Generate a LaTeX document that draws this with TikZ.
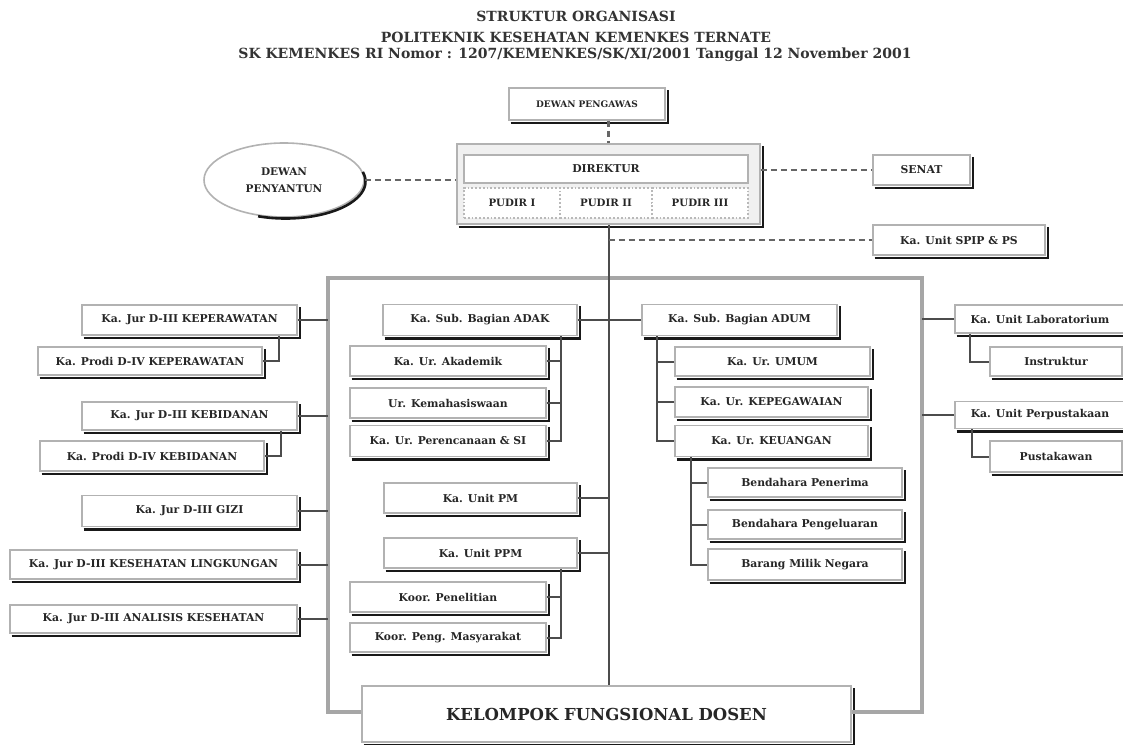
\documentclass[tikz,border=0pt]{standalone}
\usepackage{fontspec}
\setmainfont{DejaVu Serif}
\usetikzlibrary{shapes.geometric,calc}
\begin{document}
\begin{tikzpicture}[x=1pt,y=-1pt,
  box/.style={draw=gray!60,line width=1.8pt,fill=white,inner sep=0pt,font=\bfseries\fontsize{10.8}{12}\selectfont,text=black!85},
  pudir/.style={draw=gray!55,dotted,line width=1.8pt,fill=white,inner sep=0pt,font=\bfseries\fontsize{10.2}{12}\selectfont,text=black!85},
  shadowline/.style={draw=black!90,line width=2.8pt},
  conn/.style={draw=black!70,line width=2pt},
  frameline/.style={draw=gray!70,line width=3.2pt},
  dashline/.style={draw=black!60,line width=2.2pt,dash pattern=on 6pt off 4pt},
  titlefont/.style={font=\bfseries\fontsize{14}{16}\selectfont,text=black!80},
]
\useasboundingbox[fill=white] (0,0) rectangle (1123,744);

% titles
\node[titlefont] (t1) at (576,16) {STRUKTUR ORGANISASI};
\node[titlefont] (t2) at (576,37) {POLITEKNIK KESEHATAN KEMENKES TERNATE};
\node[titlefont] (t3) at (575,55) {SK KEMENKES RI Nomor : 1207/KEMENKES/SK/XI/2001 Tanggal 12 November 2001};

% top
\node[box,minimum width=156pt,minimum height=32pt,font=\bfseries\fontsize{9}{10}\selectfont] (pengawas) at (587,104) {DEWAN PENGAWAS};
\node[draw=gray!60,line width=1.8pt,fill=gray!12,minimum width=303pt,minimum height=80pt] (dirouter) at (608.5,184) {};
\node[box,minimum width=284pt,minimum height=28pt] (dir) at (606,169) {DIREKTUR};
\node[pudir,minimum width=96pt,minimum height=30pt] (p1) at (512,203) {PUDIR I};
\node[pudir,minimum width=92pt,minimum height=30pt] (p2) at (606,203) {PUDIR II};
\node[pudir,minimum width=96pt,minimum height=30pt] (p3) at (700,203) {PUDIR III};
\node[draw=gray!60,line width=1.6pt,fill=white,ellipse,minimum width=160pt,minimum height=74pt,inner sep=0pt,align=center,font=\bfseries\fontsize{10.5}{17}\selectfont,text=black!85] (dp) at (284,180) {DEWAN\\PENYANTUN};
\node[box,minimum width=97pt,minimum height=30pt] (senat) at (921.5,170) {SENAT};
\node[box,minimum width=172pt,minimum height=30pt] (spi) at (959,240) {Ka. Unit SPIP \& PS};

% left
\node[box,minimum width=215pt,minimum height=30pt] (jkep) at (189.5,320) {Ka. Jur D-III KEPERAWATAN};
\node[box,minimum width=224pt,minimum height=28pt] (pkep) at (150,361) {Ka. Prodi D-IV KEPERAWATAN};
\node[box,minimum width=215pt,minimum height=28pt] (jbid) at (189.5,416) {Ka. Jur D-III KEBIDANAN};
\node[box,minimum width=224pt,minimum height=30pt] (pbid) at (152,456) {Ka. Prodi D-IV KEBIDANAN};
\node[box,minimum width=215pt,minimum height=31pt] (jgizi) at (189.5,511) {Ka. Jur D-III GIZI};
\node[box,minimum width=287pt,minimum height=29pt] (jkl) at (153.5,564.5) {Ka. Jur D-III KESEHATAN LINGKUNGAN};
\node[box,minimum width=287pt,minimum height=28pt] (jak) at (153.5,619) {Ka. Jur D-III ANALISIS KESEHATAN};

% middle
\node[box,minimum width=194pt,minimum height=31pt] (adak) at (480,320) {Ka. Sub. Bagian ADAK};
\node[box,minimum width=196pt,minimum height=30pt] (akad) at (448,361) {Ka. Ur. Akademik};
\node[box,minimum width=196pt,minimum height=30pt] (kema) at (448,403) {Ur. Kemahasiswaan};
\node[box,minimum width=196pt,minimum height=31pt] (renc) at (448,441) {Ka. Ur. Perencanaan \& SI};
\node[box,minimum width=193pt,minimum height=30pt] (upm) at (480.5,498) {Ka. Unit PM};
\node[box,minimum width=193pt,minimum height=30pt] (uppm) at (480.5,553) {Ka. Unit PPM};
\node[box,minimum width=196pt,minimum height=30pt] (pen) at (448,597) {Koor. Penelitian};
\node[box,minimum width=196pt,minimum height=29pt] (pm) at (448,637.5) {Koor. Peng. Masyarakat};

% right
\node[box,minimum width=195pt,minimum height=31pt] (adum) at (739.5,320) {Ka. Sub. Bagian ADUM};
\node[box,minimum width=195pt,minimum height=29pt] (umum) at (772.5,361.5) {Ka. Ur. UMUM};
\node[box,minimum width=193pt,minimum height=30pt] (pega) at (771.5,402) {Ka. Ur. KEPEGAWAIAN};
\node[box,minimum width=193pt,minimum height=31pt] (keu) at (771.5,441) {Ka. Ur. KEUANGAN};
\node[box,minimum width=194pt,minimum height=29pt] (bpen) at (805,482.5) {Bendahara Penerima};
\node[box,minimum width=194pt,minimum height=29pt] (bpeng) at (805,524.5) {Bendahara Pengeluaran};
\node[box,minimum width=194pt,minimum height=31pt] (bmn) at (805,564.5) {Barang Milik Negara};

% far right
\node[box,minimum width=170pt,minimum height=28pt] (lab) at (1040,319) {Ka. Unit Laboratorium};
\node[box,minimum width=132pt,minimum height=29pt] (inst) at (1056,361.5) {Instruktur};
\node[box,minimum width=170pt,minimum height=27pt] (perp) at (1040,415) {Ka. Unit Perpustakaan};
\node[box,minimum width=132pt,minimum height=31pt] (pust) at (1056,456.5) {Pustakawan};

% bottom
\node[box,minimum width=489pt,minimum height=56pt,font=\bfseries\fontsize{16.5}{19}\selectfont] (kfd) at (606.5,714) {KELOMPOK FUNGSIONAL DOSEN};

% shadows
\foreach \n in {pengawas,dirouter,senat,spi,jkep,pkep,jbid,pbid,jgizi,jkl,jak,adak,akad,kema,renc,upm,uppm,pen,pm,adum,umum,pega,keu,bpen,bpeng,bmn,lab,inst,perp,pust,kfd}
  \draw[shadowline] ([shift={(2.5pt,-2pt)}]\n.south west) -- ([shift={(2pt,-2pt)}]\n.south east) -- ([shift={(2pt,-2.5pt)}]\n.north east);
\draw[black!90,line width=2.6pt] ($(dp.center)+(1.5pt,-1.5pt)$) ++(-110:80pt and 37pt) arc[start angle=-110,end angle=15,x radius=80pt,y radius=37pt];

% frame
\coordinate (fTL) at (328,278);
\coordinate (fBR) at (922,712);
\draw[frameline] (kfd.west |- fBR) -- (fTL |- fBR) -- (fTL) -- (fBR |- fTL) -- (fBR) -- (kfd.east |- fBR);

% center spine
\draw[conn] (dirouter.south) -- (dirouter.south |- kfd.north);

% dashed links
\draw[dashline] (pengawas.south -| dirouter.north) -- (dirouter.north);
\draw[dashline] (dp.east) -- (dp.east -| dirouter.west);
\draw[dashline] (senat.west -| dirouter.east) -- (senat.west);
\draw[dashline] (spi.west -| dirouter.south) -- (spi.west);

% left links
\foreach \n in {jkep,jbid,jgizi,jkl,jak} \draw[conn] (\n.east) -- (\n.east -| fTL);
\draw[conn] ([xshift=-19pt]jkep.south east) |- (pkep.east);
\draw[conn] ([xshift=-17pt]jbid.south east) |- (pbid.east);

% middle links
\foreach \n in {adak,upm,uppm} \draw[conn] (\n.east) -- (\n.east -| dirouter.south);
\draw[conn] ([xshift=-17pt]adak.south east) coordinate (a1) |- (renc.east);
\foreach \n in {akad,kema} \draw[conn] (\n.east) -- (\n.east -| a1);
\draw[conn] ([xshift=-17pt]uppm.south east) coordinate (a2) |- (pm.east);
\draw[conn] (pen.east) -- (pen.east -| a2);

% right links
\draw[conn] (adum.west) -- (adum.west -| dirouter.south);
\draw[conn] ([xshift=16pt]adum.south west) coordinate (b1) |- (keu.west);
\foreach \n in {umum,pega} \draw[conn] (\n.west) -- (\n.west -| b1);
\draw[conn] ([xshift=17pt]keu.south west) coordinate (b2) |- (bmn.west);
\foreach \n in {bpen,bpeng} \draw[conn] (\n.west) -- (\n.west -| b2);

% far right links
\foreach \n in {lab,perp} \draw[conn] (\n.west) -- (\n.west -| fBR);
\draw[conn] ([xshift=16pt]lab.south west) |- (inst.west);
\draw[conn] ([xshift=18pt]perp.south west) |- (pust.west);
\end{tikzpicture}
\end{document}
